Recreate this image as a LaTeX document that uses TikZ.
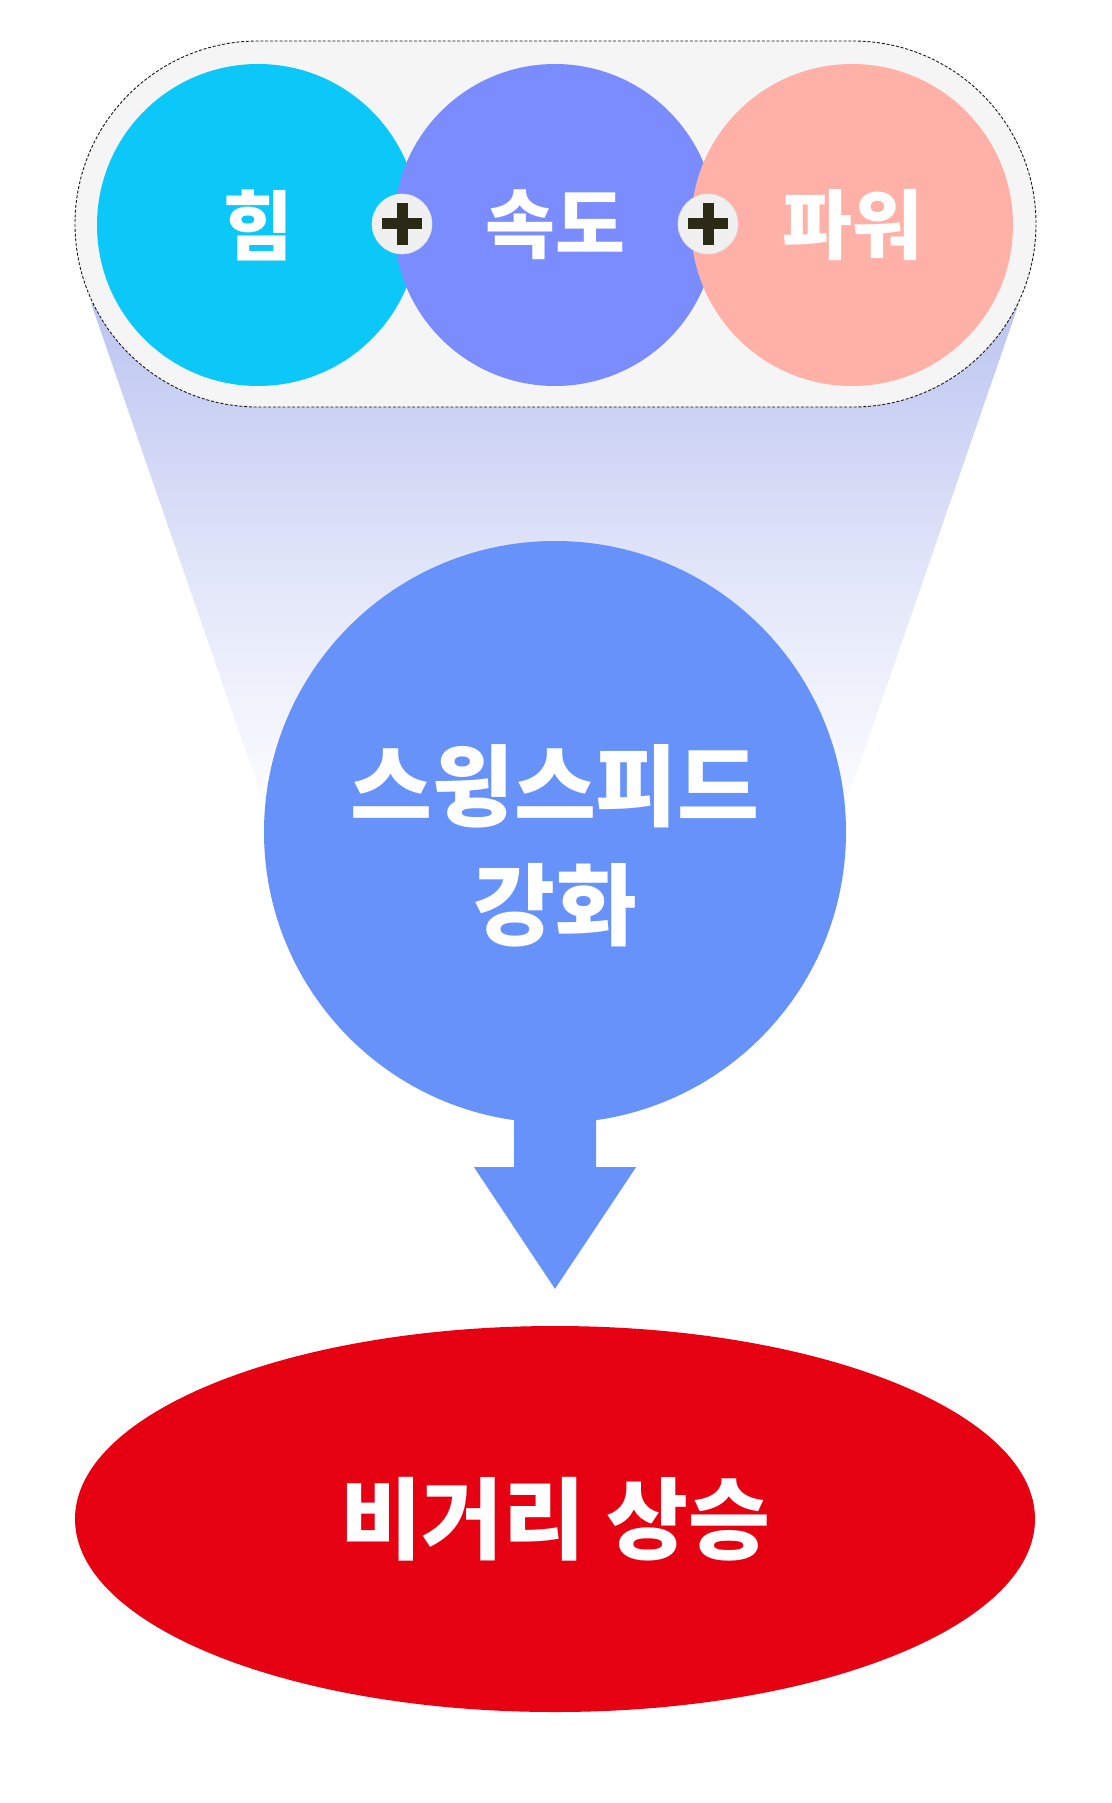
\documentclass[tikz,border=0pt]{standalone}
\usepackage{fontspec}
\newfontfamily\kr{Noto Sans CJK KR}
\usetikzlibrary{shapes.misc,shapes.geometric,calc}
\definecolor{capfill}{HTML}{F5F5F5}
\definecolor{ccyan}{HTML}{0BC8F8}
\definecolor{cviolet}{HTML}{7B8CFF}
\definecolor{csalmon}{HTML}{FFB1A7}
\definecolor{bigblue}{HTML}{6692F9}
\definecolor{cred}{HTML}{E50012}
\definecolor{plusfill}{HTML}{F0F0F0}
\definecolor{plusdark}{HTML}{2B2A15}
\definecolor{funtop}{HTML}{BCC5F1}
\tikzset{
  topcircle/.style={circle, inner sep=0pt, minimum size=322pt, text=white,
    font=\kr\bfseries\fontsize{76}{90}\selectfont},
  plusc/.style={circle, inner sep=0pt, minimum size=60pt, fill=plusfill, draw=black!12, line width=0.6pt},
  plusbar/.style={fill=plusdark},
}
\begin{document}
\begin{tikzpicture}[x=1pt,y=-1pt]
\useasboundingbox (0,0) rectangle (1111,1803);
% funnel
\shade[top color=funtop, bottom color=white, middle color=funtop!45!white] (91,303) -- (1019,303) -- (837,830) -- (273,830) -- cycle;
% capsule
\node[rounded rectangle, minimum width=961pt, minimum height=366pt, inner sep=0pt,
      fill=capfill, draw=black!90, line width=0.9pt, dash pattern=on 3pt off 1.8pt] (cap) at (555.5,224) {};
% circles
\node[topcircle, fill=ccyan] (him) at (258,225) {힘};
\node[topcircle, fill=cviolet] (sokdo) at (555,225) {속도};
\node[topcircle, fill=csalmon] (power) at (852,225) {파워};
% plus signs
\node[plusc] (p1) at (402,224) {};
\node[plusc] (p2) at (708,224) {};
\foreach \p in {p1,p2}{
  \fill[plusbar] ($(\p.center)+(-20,-5.5)$) rectangle ($(\p.center)+(20,5.5)$);
  \fill[plusbar] ($(\p.center)+(-5.5,-21)$) rectangle ($(\p.center)+(5.5,21)$);
}
% big circle
\node[circle, inner sep=0pt, minimum size=582pt, fill=bigblue] (swing) at (555,832) {};
\node[text=white, align=center, font=\kr\bfseries\fontsize{89}{119}\selectfont] (swingtxt) at (555,846) {스윙스피드\\강화};
% goal ellipse
\node[ellipse, inner sep=0pt, minimum width=960pt, minimum height=386pt, fill=cred, text=white,
      font=\kr\bfseries\fontsize{89}{100}\selectfont] (goal) at (555,1519) {비거리 상승};
% block arrow
\fill[bigblue] ($(swing.south)+(-41,-20)$) -- ($(swing.south)+(41,-20)$) -- ($(swing.south)+(41,44)$)
  -- ($(swing.south)+(81,44)$) -- ($(goal.north)+(0,-37)$) -- ($(swing.south)+(-81,44)$)
  -- ($(swing.south)+(-41,44)$) -- cycle;
\end{tikzpicture}
\end{document}
